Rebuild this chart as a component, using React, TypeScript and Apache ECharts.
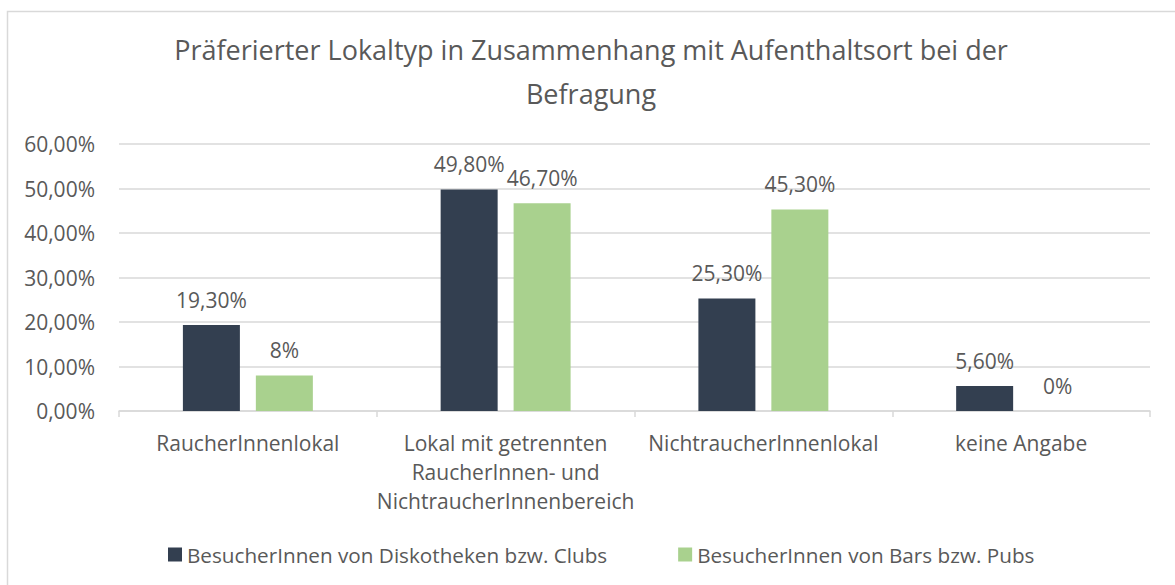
import React, { useEffect, useRef } from "react";
import * as echarts from "echarts";

const titleText = "Präferierter Lokaltyp in Zusammenhang mit Aufenthaltsort bei der\nBefragung";
const categories = [
  "RaucherInnenlokal",
  "Lokal mit getrennten\nRaucherInnen- und\nNichtraucherInnenbereich",
  "NichtraucherInnenlokal",
  "keine Angabe",
];
const seriesNames = [
  "BesucherInnen von Diskotheken bzw. Clubs",
  "BesucherInnen von Bars bzw. Pubs",
];
const clubsValues = [19.3, 49.8, 25.3, 5.6];
const barsValues = [8, 46.7, 45.3, 0];
const clubsLabels = ["19,30%", "49,80%", "25,30%", "5,60%"];
const barsLabels = ["8%", "46,70%", "45,30%", "0%"];
const yTicks = { min: 0, max: 60, interval: 10 };

const FONT = "'Open Sans', sans-serif";
const TXT = "#595959";
const GRIDC = "#d9d9d9";

export default function App() {
  const ref = useRef<HTMLDivElement>(null);
  useEffect(() => {
    if (!ref.current) return;
    const chart = echarts.init(ref.current, undefined, { renderer: "svg" });

    const mkData = (vals: number[], labels: string[]) =>
      vals.map((v, i) => ({ value: v, label: { formatter: labels[i] } }));

    const labelBase = {
      show: true,
      position: "top",
      distance: 15,
      color: TXT,
      fontSize: 21,
      fontFamily: FONT,
    };

    chart.setOption({
      animation: false,
      textStyle: { fontFamily: FONT },
      title: {
        text: titleText,
        left: 586,
        textAlign: "center",
        top: 22,
        textStyle: {
          fontSize: 27,
          fontWeight: "normal",
          color: TXT,
          lineHeight: 44,
          fontFamily: FONT,
        },
      },
      graphic: [
        {
          type: "rect",
          shape: { x: 7.5, y: 11.5, width: 1200, height: 600 },
          style: { fill: "none", stroke: GRIDC, lineWidth: 1.5 },
          silent: true,
        },
      ],
      legend: {
        data: seriesNames,
        left: 168,
        top: 544,
        padding: 0,
        itemWidth: 14,
        itemHeight: 14,
        itemGap: 71,
        icon: "rect",
        textStyle: { color: TXT, fontSize: 20.7, fontFamily: FONT },
      },
      grid: { left: 119, right: 25, top: 144, bottom: 174, containLabel: false },
      xAxis: {
        type: "category",
        data: categories,
        axisLine: { lineStyle: { color: GRIDC, width: 1.5 } },
        axisTick: { show: true, length: 6, lineStyle: { color: GRIDC, width: 1.5 } },
        axisLabel: {
          color: TXT,
          fontSize: 21,
          fontFamily: FONT,
          lineHeight: 29,
          margin: 17,
          interval: 0,
        },
      },
      yAxis: {
        type: "value",
        min: yTicks.min,
        max: yTicks.max,
        interval: yTicks.interval,
        axisLine: { show: false },
        axisTick: { show: false },
        splitLine: { lineStyle: { color: GRIDC, width: 1.5 } },
        axisLabel: {
          color: TXT,
          fontSize: 21,
          fontFamily: FONT,
          margin: 24,
          formatter: (v: number) => v.toFixed(2).replace(".", ",") + "%",
        },
      },
      series: [
        {
          name: seriesNames[0],
          type: "bar",
          barWidth: 57,
          barGap: "28%",
          itemStyle: { color: "#333F50" },
          label: labelBase,
          data: mkData(clubsValues, clubsLabels),
        },
        {
          name: seriesNames[1],
          type: "bar",
          barWidth: 57,
          itemStyle: { color: "#A9D18E" },
          label: labelBase,
          data: mkData(barsValues, barsLabels),
        },
      ],
    });
    return () => chart.dispose();
  }, []);
  return (
    <div
      ref={ref}
      style={{ position: "absolute", left: 0, top: 0, width: 1175, height: 585, background: "#fff" }}
    />
  );
}
